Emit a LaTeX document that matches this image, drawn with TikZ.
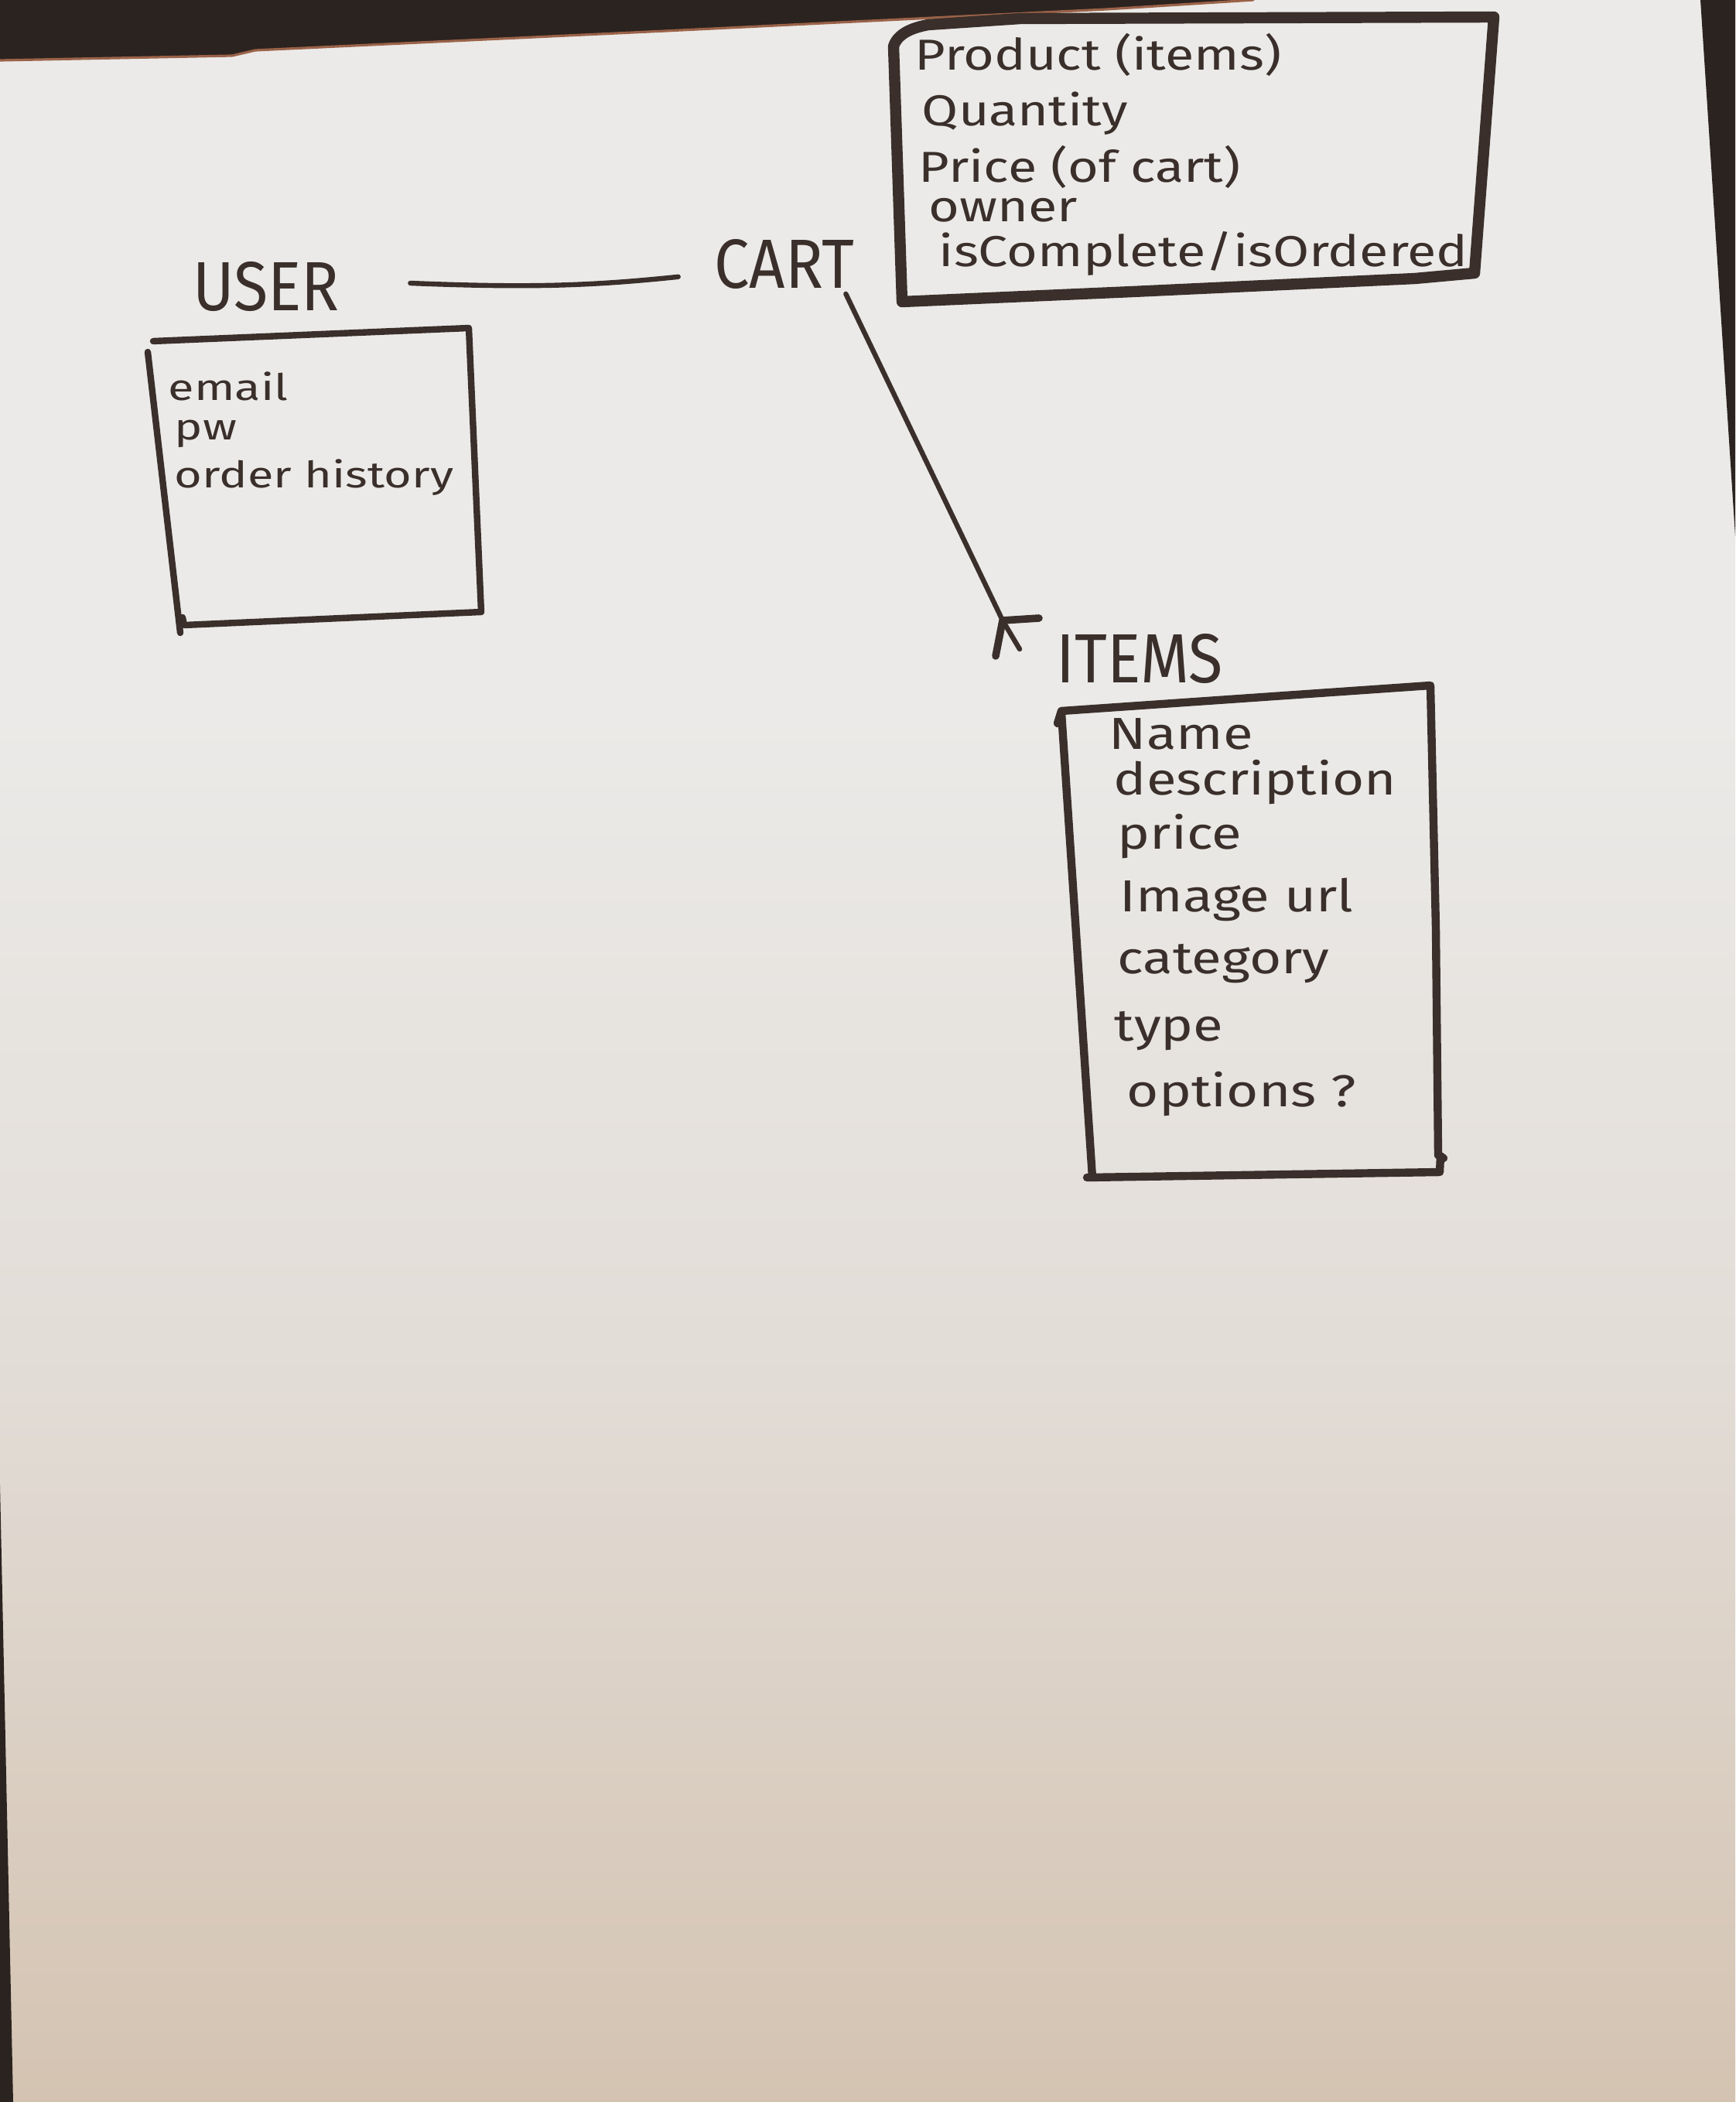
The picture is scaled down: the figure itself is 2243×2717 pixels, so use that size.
\documentclass[tikz,border=0pt]{standalone}
\usepackage{fontspec}
\setmainfont{Fira Sans}
% wide, low lettering for the attribute lists
\newfontfamily\handwide{Fira Sans}[FakeStretch=1.22]
\newfontfamily\handwider{Fira Sans}[FakeStretch=1.3]
\newfontfamily\handcaps{Fira Sans}[FakeStretch=0.9]
\begin{document}
% paper, desk and marker colours
\definecolor{ink}{HTML}{3A2F2A}
\definecolor{papertop}{HTML}{EBEAE8}
\definecolor{papermid}{HTML}{E2DCD6}
\definecolor{paperlow}{HTML}{D4C3B1}
\definecolor{desk}{HTML}{2B231F}
\definecolor{rim}{HTML}{9A6248}
\pgfdeclareverticalshading{paper}{100bp}{color(0bp)=(paperlow); color(25bp)=(paperlow); color(42bp)=(papermid); color(58bp)=(papertop); color(100bp)=(papertop)}
\begin{tikzpicture}[x=0.25pt,y=-0.25pt,
  line join=round, line cap=round,
  entity/.style={inner sep=0pt, text=ink, font=\handcaps\fontsize{22.5}{26}\selectfont},
  attr/.style={anchor=mid west, inner sep=0pt, text=ink},
  cartattr/.style={attr, font=\handwide\fontsize{14}{16}\selectfont},
  userattr/.style={attr, font=\handwider\fontsize{11.8}{14}\selectfont},
  itemattr/.style={attr, font=\handwide\fontsize{14.5}{17}\selectfont},
  thinbox/.style={draw=ink, line width=2.1pt},
  thickbox/.style={draw=ink, line width=3.6pt},
  midbox/.style={draw=ink, line width=2.6pt},
  conn/.style={draw=ink, line width=1.6pt}]
\useasboundingbox (0,0) rectangle (2243,2717);

% sheet of paper and the desk around its edges
\shade[shading=paper] (0,0) rectangle (2243,2717);
\fill[desk] (0,0) -- (1620,0) -- (1430,12) -- (860,40) -- (330,65) -- (300,72) -- (0,78) -- cycle;
\draw[rim, line width=0.8pt] (1620,0) -- (1430,12) -- (860,40) -- (330,65) -- (300,72) -- (0,78);
\fill[desk] (2198,0) -- (2243,0) -- (2243,693) -- cycle;
\fill[desk] (0,1919) -- (17,2717) -- (0,2717) -- cycle;

% entity names
\node[entity] (user) at (344,370) {USER};
\node[entity] (cart) at (1014,341) {CART};
\node[entity] (items) at (1473,851) {ITEMS};

% USER box
\draw[thinbox] (198,441) -- (606,424) -- (622,791);
\draw[thinbox] (191,455) -- (233,818);
\draw[thinbox] (236,798) -- (238,808) -- (622,791);
\node[userattr] (uemail) at (217,507) {email};
\node[userattr] (upw) at (225,558) {pw};
\node[userattr] (uhist) at (225,620) {order history};

% CART box
\draw[thickbox] (1155,60) .. controls (1160,44) and (1178,36) .. (1200,32)
  -- (1319,24) -- (1931,22) -- (1906,353) -- (1829,360) -- (1464,377) -- (1166,390) -- cycle;
\node[cartattr] (cprod) at (1182,80) {Product (items)};
\node[cartattr] (cqty) at (1191,152) {Quantity};
\node[cartattr] (cprice) at (1187,225) {Price (of cart)};
\node[cartattr] (cowner) at (1200,276) {owner};
\node[cartattr] (cdone) at (1213,334) {isComplete/isOrdered};

% ITEMS box
\draw[midbox] (1367,935) -- (1372,919) -- (1849,886) -- (1856,1200) -- (1859,1493) -- (1866,1497);
\draw[midbox] (1372,921) -- (1412,1522);
\draw[midbox] (1405,1522) -- (1861,1515) -- (1862,1494);
\node[itemattr] (iname) at (1433,958) {Name};
\node[itemattr] (idesc) at (1439,1017) {description};
\node[itemattr] (iprice) at (1444,1087) {price};
\node[itemattr] (iimg) at (1447,1168) {Image url};
\node[itemattr] (icat) at (1444,1248) {category};
\node[itemattr] (itype) at (1440,1335) {type};
\node[itemattr] (iopt) at (1456,1420) {options ?};

% relationships
\draw[conn] ([xshift=22.7pt,yshift=1pt]user.east) .. controls (680,372) and (760,370) .. ([xshift=-11.5pt,yshift=-4.2pt]cart.west);
\coordinate (fork) at (1296,802);
\draw[conn] ([xshift=-3pt,yshift=-1.5pt]cart.south east) -- (fork) -- (1318,839);
\draw[conn, line width=2.4pt] (1343,799) -- (fork) -- (1287,848);
\end{tikzpicture}
\end{document}
